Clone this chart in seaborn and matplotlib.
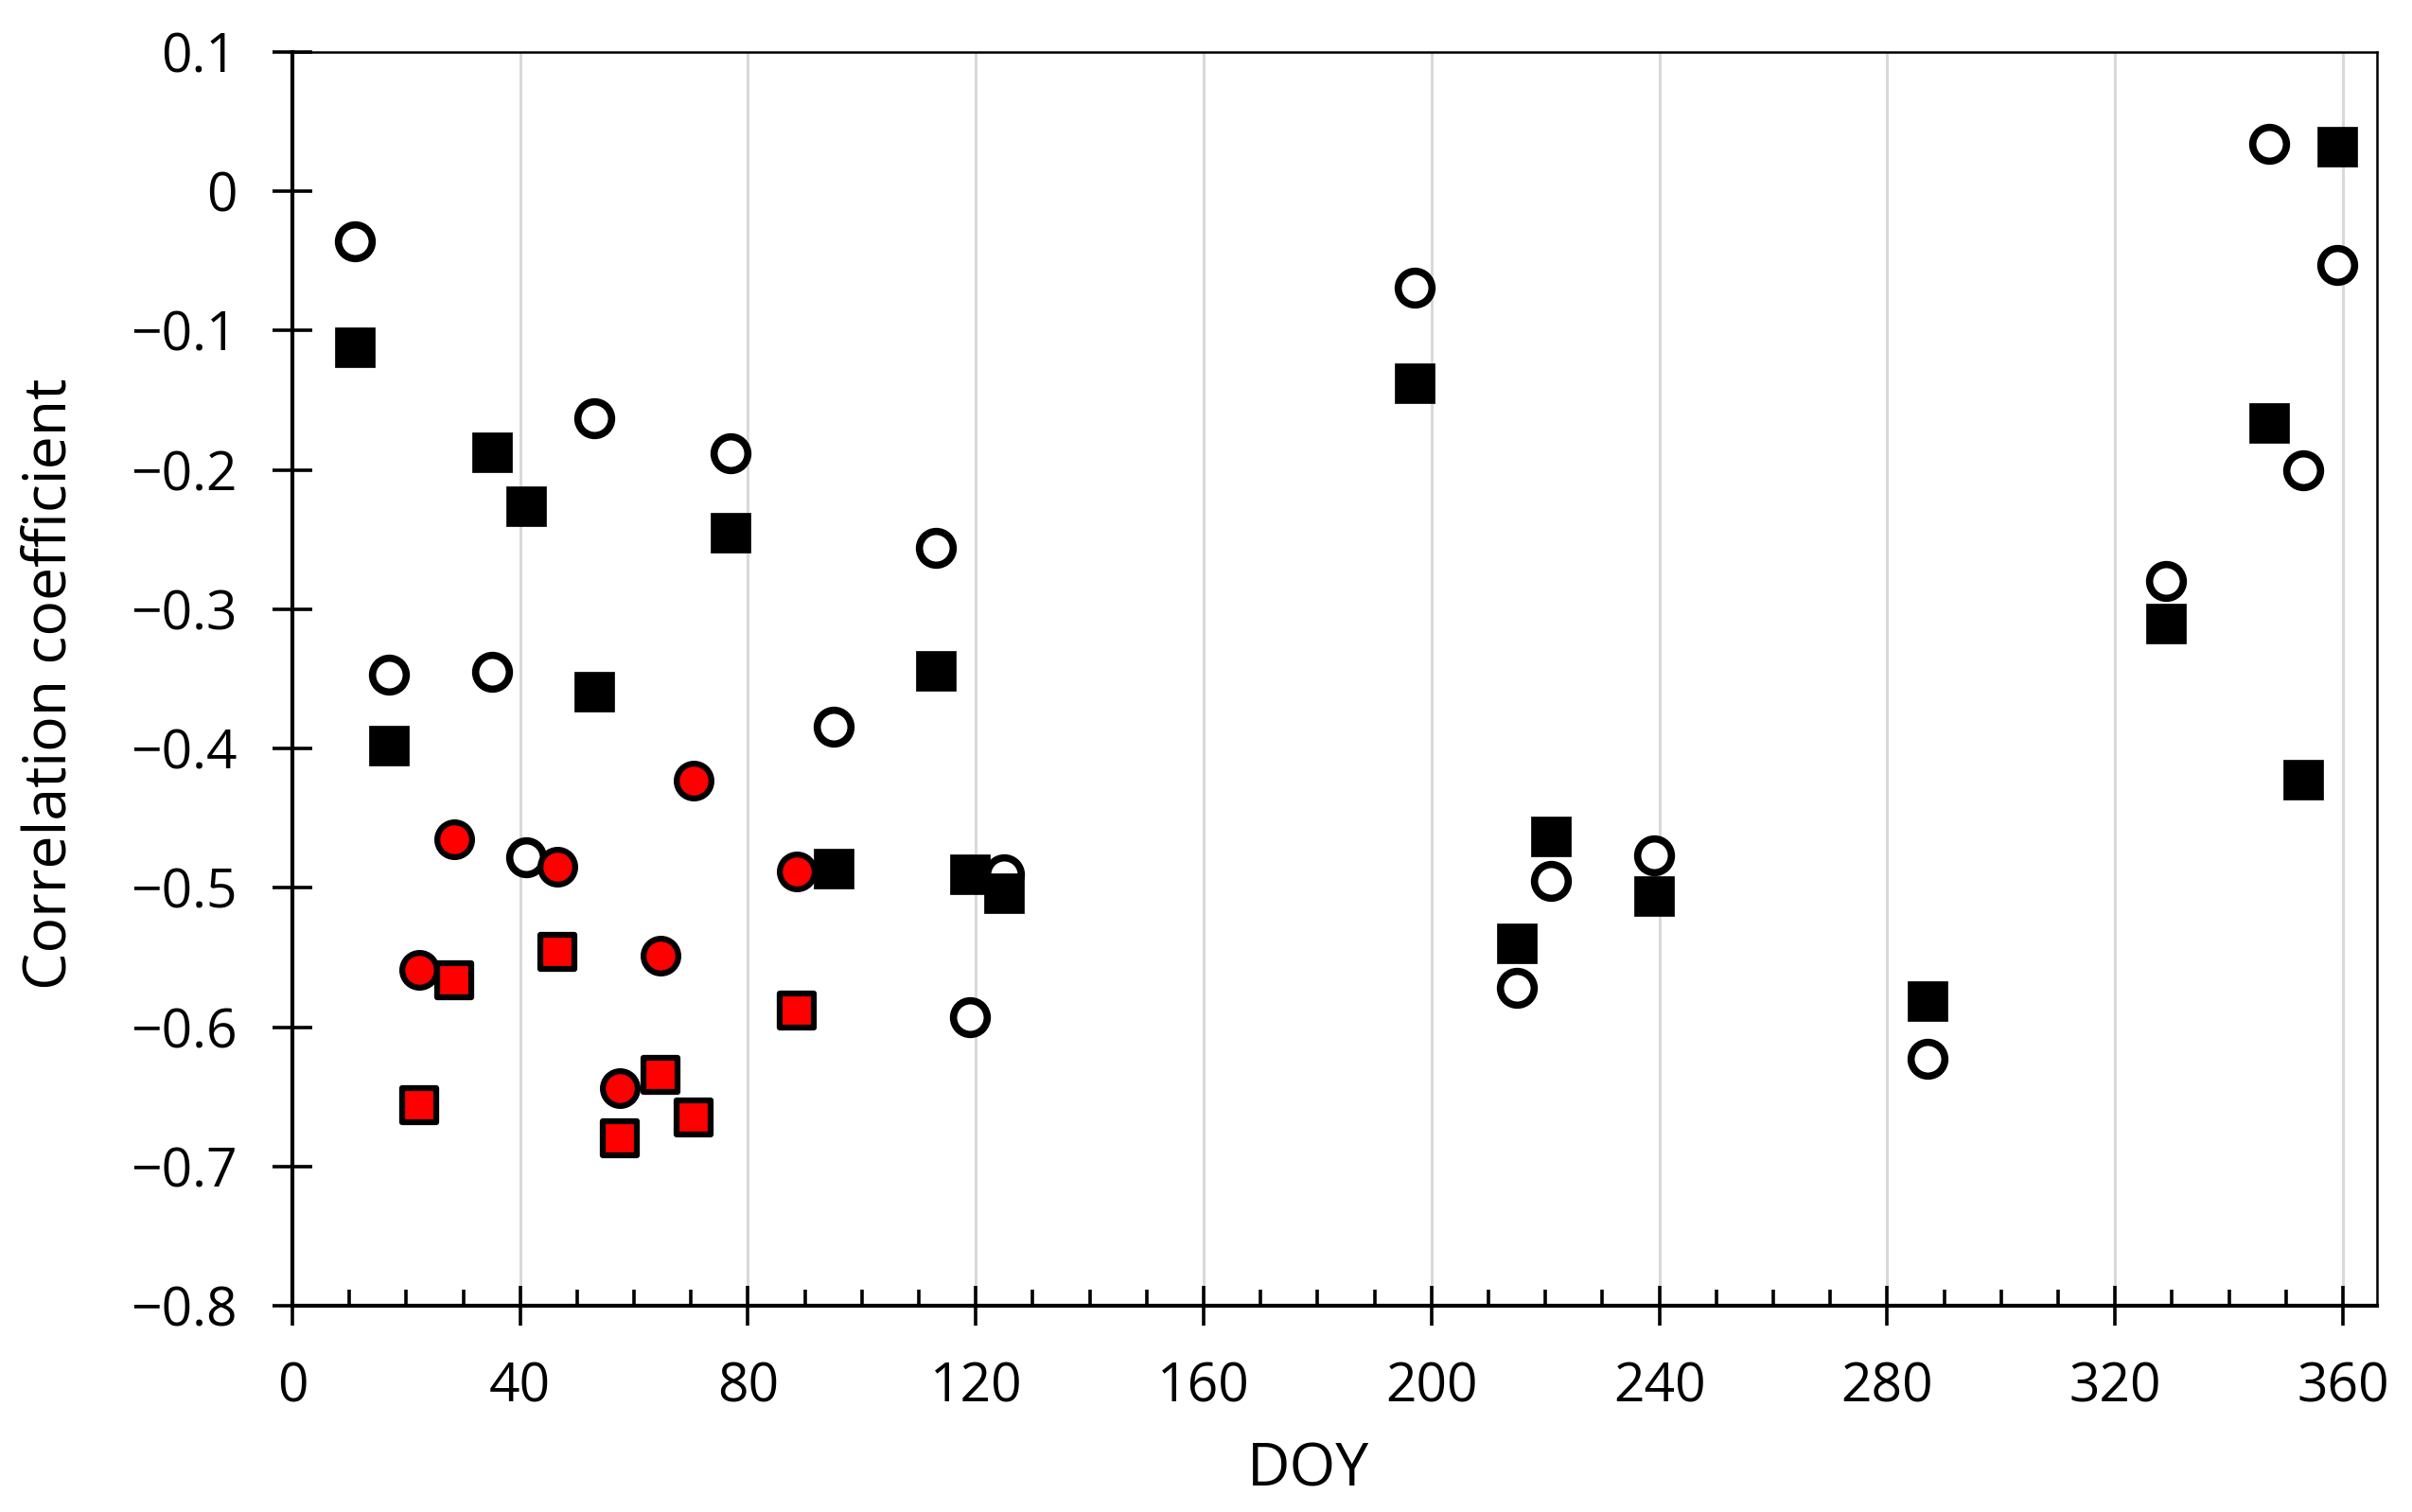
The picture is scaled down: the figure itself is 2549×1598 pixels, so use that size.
import matplotlib
matplotlib.use("Agg")
import matplotlib.pyplot as plt
from matplotlib.ticker import MultipleLocator, FuncFormatter
import seaborn as sns
import pandas as pd

# ---------------- data ----------------
doy_black = [11, 17, 35, 41, 53, 77, 95, 113, 119, 125,
             197, 215, 221, 239, 287, 329, 347, 353, 359]
open_circle = [-0.036, -0.347, -0.345, -0.478, -0.163, -0.188, -0.384, -0.256, -0.593, -0.490,
               -0.069, -0.572, -0.495, -0.477, -0.623, -0.280, 0.034, -0.200, -0.053]
black_square = [-0.112, -0.398, -0.187, -0.226, -0.359, -0.245, -0.486, -0.344, -0.490, -0.504,
                -0.138, -0.540, -0.463, -0.506, -0.581, -0.310, -0.166, -0.422, 0.032]

doy_red = [22.3, 28.5, 46.5, 57.5, 64.6, 70.5, 88.6]
red_circle = [-0.559, -0.465, -0.485, -0.644, -0.549, -0.423, -0.488]
red_square = [-0.656, -0.566, -0.546, -0.680, -0.634, -0.665, -0.588]

x_ticks = [0, 40, 80, 120, 160, 200, 240, 280, 320, 360]
y_ticks = [0.1, 0, -0.1, -0.2, -0.3, -0.4, -0.5, -0.6, -0.7, -0.8]

df_black = pd.DataFrame({"DOY": doy_black, "open": open_circle, "square": black_square})
df_red = pd.DataFrame({"DOY": doy_red, "circle": red_circle, "square": red_square})

# ---------------- style ----------------
sns.set_style("white")
plt.rcParams["font.family"] = ["Open Sans", "DejaVu Sans"]
plt.rcParams["axes.unicode_minus"] = True
plt.rcParams["text.color"] = "black"
plt.rcParams["axes.labelcolor"] = "black"
plt.rcParams["xtick.color"] = "black"
plt.rcParams["ytick.color"] = "black"

fig = plt.figure(figsize=(25.49, 15.98), dpi=100)
ax = fig.add_axes([0.1212, 0.1364, 0.8643, 0.8292])

# gridlines (vertical only)
for xv in x_ticks[1:]:
    ax.axvline(xv, color="#d9d9d9", lw=2.2, zorder=0)

sns.scatterplot(data=df_black, x="DOY", y="open", ax=ax, marker="o", s=660,
                facecolor="white", edgecolor="black", linewidth=5.5, zorder=3)
sns.scatterplot(data=df_red, x="DOY", y="circle", ax=ax, marker="o", s=700,
                color="#ff0000", edgecolor="black", linewidth=4.5, zorder=4)
sns.scatterplot(data=df_black, x="DOY", y="square", ax=ax, marker="s", s=930,
                color="black", edgecolor="black", linewidth=0.5, zorder=5)
sns.scatterplot(data=df_red, x="DOY", y="square", ax=ax, marker="s", s=640,
                color="#ff0000", edgecolor="black", linewidth=4.5, zorder=6)

ax.set_xlim(0, 366)
ax.set_ylim(-0.8, 0.1)

ax.xaxis.set_major_locator(MultipleLocator(40))
ax.xaxis.set_minor_locator(MultipleLocator(10))
ax.set_yticks(y_ticks)

def yfmt(v, pos):
    s = "{:g}".format(round(v, 2))
    return s.replace("-", "\u2212")
ax.yaxis.set_major_formatter(FuncFormatter(yfmt))

ax.tick_params(axis="both", which="major", direction="inout", length=30, width=2.6,
               labelsize=41, pad=27, colors="black", bottom=True, left=True,
               top=False, right=False)
ax.tick_params(axis="x", which="minor", direction="in", length=12, width=2.6,
               bottom=True, top=False, colors="black")
ax.tick_params(axis="y", which="minor", left=False, right=False)

for side in ["left", "bottom"]:
    ax.spines[side].set_linewidth(3.0)
    ax.spines[side].set_color("black")
for side in ["top", "right"]:
    ax.spines[side].set_linewidth(1.8)
    ax.spines[side].set_color("black")
    ax.spines[side].set_visible(True)

ax.set_xlabel("DOY", fontsize=45)
ax.set_ylabel("Correlation coefficient", fontsize=45)
ax.xaxis.set_label_coords(0.4875, -0.108)
ax.yaxis.set_label_coords(-0.102, 0.496)

fig.savefig("out.png", dpi=100)
